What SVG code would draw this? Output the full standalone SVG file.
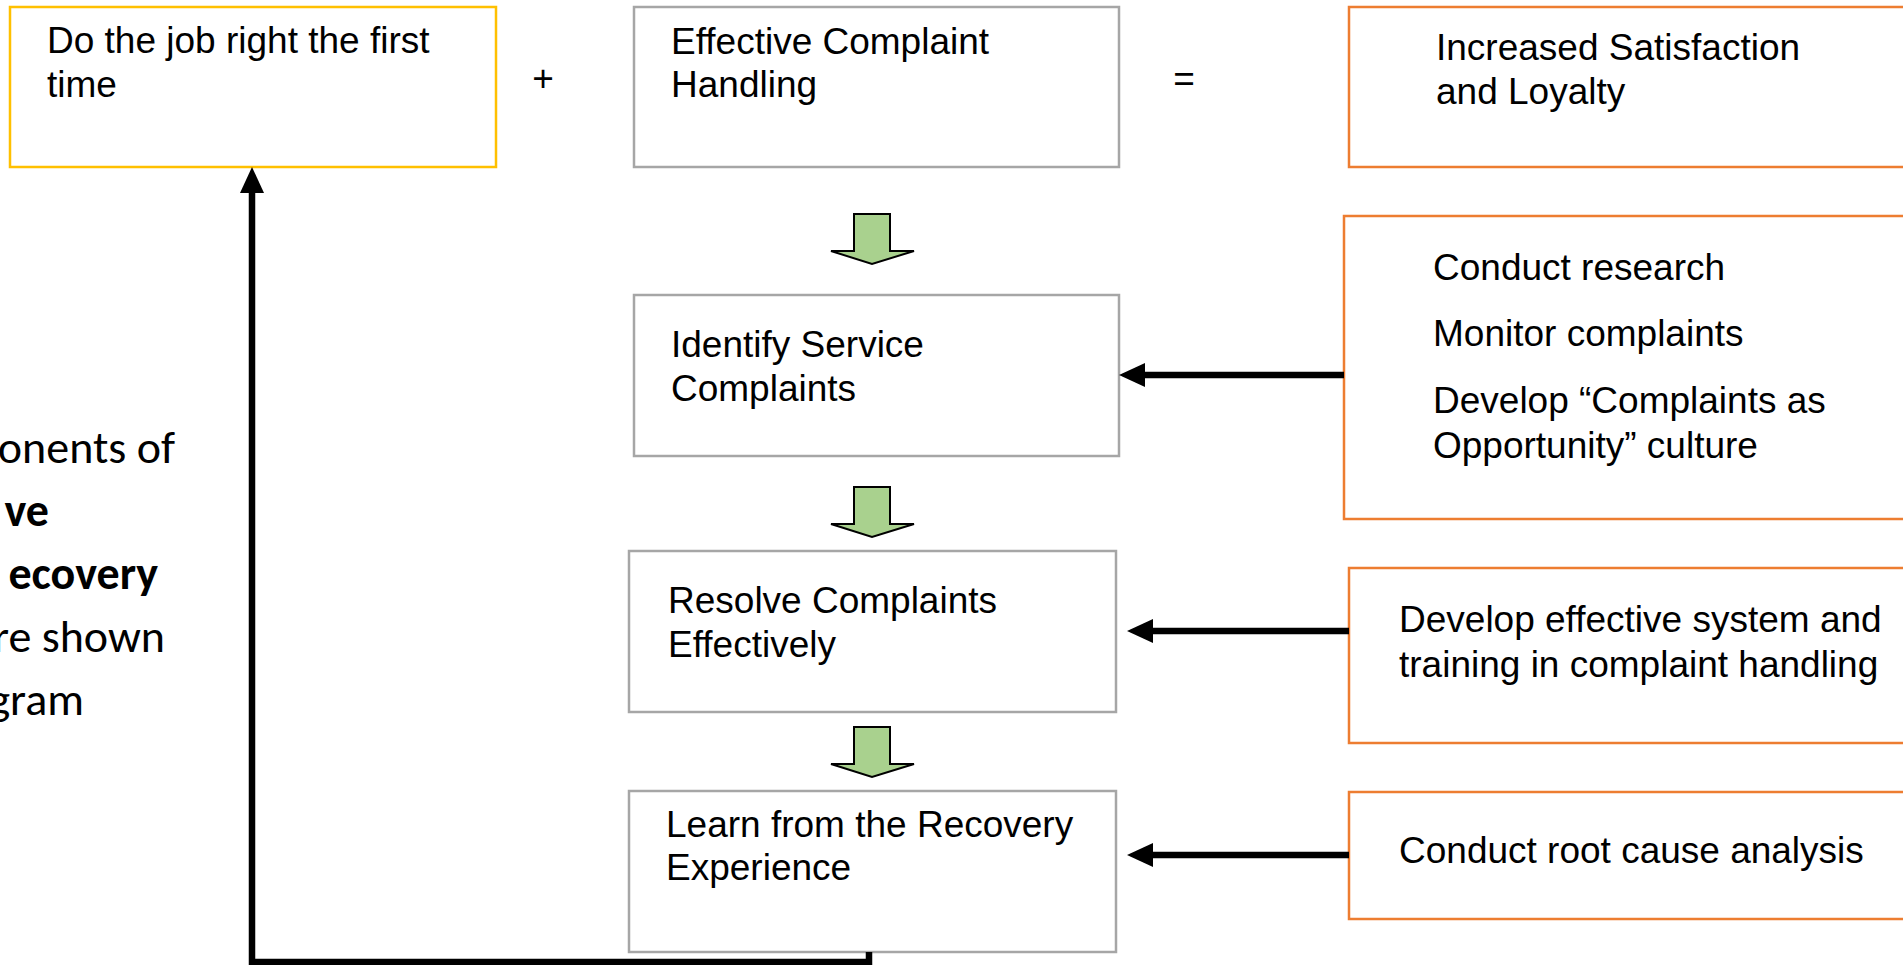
<svg xmlns="http://www.w3.org/2000/svg" width="1903" height="965" viewBox="0 0 1903 965">
<style>
.t{font-family:"Liberation Sans",Arial,sans-serif;font-size:37px;fill:#000}
.s{font-family:Carlito,Lato,"Open Sans",sans-serif;font-size:46px;fill:#000;text-anchor:end}
.b{font-weight:bold}
.gray{fill:#fff;stroke:#A6A6A6;stroke-width:2.5}
.org{fill:#fff;stroke:#ED7D31;stroke-width:2.5}
.yel{fill:#fff;stroke:#FFC000;stroke-width:2.5}
.conn{fill:none;stroke:#000;stroke-width:6.5}
.green{fill:#A9D18E;stroke:#000;stroke-width:2;stroke-linejoin:miter}
</style>
<defs>
<marker id="ah" markerUnits="userSpaceOnUse" markerWidth="26" markerHeight="24" refX="0" refY="12" orient="auto" overflow="visible">
<path d="M0,0 L26,12 L0,24 Z" fill="#000"/>
</marker>
<polygon id="garrow" points="-18,0 18,0 18,37 42,37 0,50 -41,37 -18,37"/>
</defs>
<rect width="1903" height="965" fill="#fff"/>

<g id="intro">
<text class="s" x="175" y="463">onents of</text>
<text class="s b" x="49" y="526">ve</text>
<text class="s b" x="158" y="589">ecovery</text>
<text class="s" x="165" y="652">re shown</text>
<text class="s" x="84" y="715">gram</text>
</g>

<g id="node-first-time">
<rect class="yel" x="10" y="7" width="486" height="160"/>
<text class="t" x="47" y="53">Do the job right the first</text>
<text class="t" x="47" y="97">time</text>
</g>

<g id="plus"><text class="t" x="543" y="91" text-anchor="middle">+</text></g>

<g id="node-complaint-handling">
<rect class="gray" x="634" y="7" width="485" height="160"/>
<text class="t" x="671" y="54">Effective Complaint</text>
<text class="t" x="671" y="97">Handling</text>
</g>

<g id="equals"><text class="t" x="1184" y="91" text-anchor="middle">=</text></g>

<g id="node-satisfaction">
<rect class="org" x="1349" y="7" width="570" height="160"/>
<text class="t" x="1436" y="60">Increased Satisfaction</text>
<text class="t" x="1436" y="104">and Loyalty</text>
</g>

<g id="node-identify">
<rect class="gray" x="634" y="295" width="485" height="161"/>
<text class="t" x="671" y="357">Identify Service</text>
<text class="t" x="671" y="401">Complaints</text>
</g>

<g id="node-research">
<rect class="org" x="1344" y="216" width="575" height="303"/>
<text class="t" x="1433" y="280">Conduct research</text>
<text class="t" x="1433" y="346">Monitor complaints</text>
<text class="t" x="1433" y="413">Develop “Complaints as</text>
<text class="t" x="1433" y="458">Opportunity” culture</text>
</g>

<g id="node-resolve">
<rect class="gray" x="629" y="551" width="487" height="161"/>
<text class="t" x="668" y="613">Resolve Complaints</text>
<text class="t" x="668" y="657">Effectively</text>
</g>

<g id="node-system">
<rect class="org" x="1349" y="568" width="570" height="175"/>
<text class="t" x="1399" y="632">Develop effective system and</text>
<text class="t" x="1399" y="677">training in complaint handling</text>
</g>

<g id="node-learn">
<rect class="gray" x="629" y="791" width="487" height="161"/>
<text class="t" x="666" y="837">Learn from the Recovery</text>
<text class="t" x="666" y="880">Experience</text>
</g>

<g id="node-root-cause">
<rect class="org" x="1349" y="792" width="570" height="127"/>
<text class="t" x="1399" y="863">Conduct root cause analysis</text>
</g>

<g id="connectors">
<use href="#garrow" class="green" transform="translate(872,214)"/>
<use href="#garrow" class="green" transform="translate(872,487)"/>
<use href="#garrow" class="green" transform="translate(872,727)"/>
<path class="conn" d="M1344,375 H1145" marker-end="url(#ah)"/>
<path class="conn" d="M1349,631 H1153" marker-end="url(#ah)"/>
<path class="conn" d="M1349,855 H1153" marker-end="url(#ah)"/>
<path class="conn" d="M869,952 V962 H252 V193" marker-end="url(#ah)"/>
</g>
</svg>
